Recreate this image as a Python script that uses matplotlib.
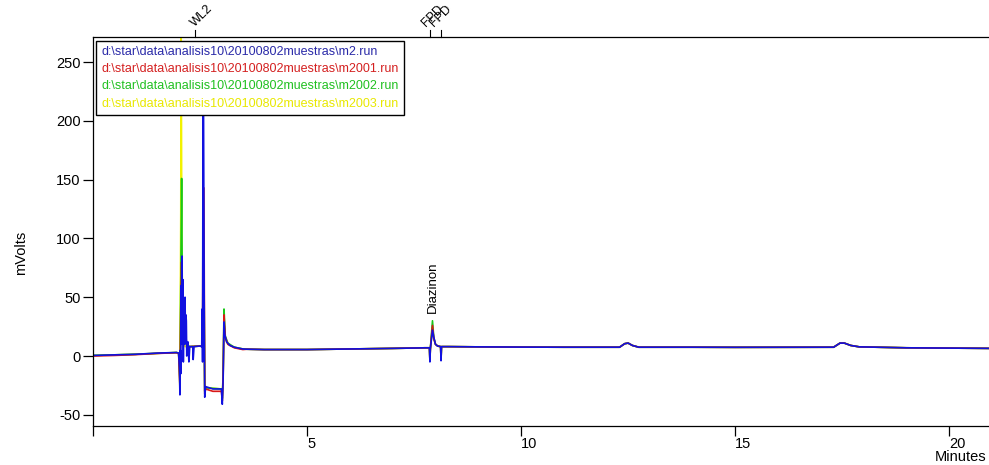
import matplotlib.pyplot as plt
import numpy as np

plt.rcParams['font.family'] = ['Liberation Sans Narrow', 'Liberation Sans', 'DejaVu Sans']
plt.rcParams['axes.unicode_minus'] = False

# run files shown in the legend
run_files = [
    "d:\\star\\data\\analisis10\\20100802muestras\\m2.run",
    "d:\\star\\data\\analisis10\\20100802muestras\\m2001.run",
    "d:\\star\\data\\analisis10\\20100802muestras\\m2002.run",
    "d:\\star\\data\\analisis10\\20100802muestras\\m2003.run",
]

# early part of each trace (0 - 3.5 min)
blue_early_t = [0.0, 0.5, 1.0, 1.5, 1.95, 2.0, 2.02, 2.03, 2.04, 2.05, 2.06, 2.07, 2.08, 2.09, 2.10,
                2.11, 2.12, 2.13, 2.14, 2.15, 2.16, 2.17, 2.18, 2.19, 2.20, 2.22, 2.24, 2.26, 2.30, 2.33,
                2.34, 2.36, 2.50, 2.54, 2.55, 2.56, 2.57, 2.58, 2.60, 2.61, 2.63, 2.80, 3.00, 3.02, 3.04,
                3.06, 3.08, 3.12, 3.20, 3.30, 3.50]
blue_early_v = [0.5, 1.0, 1.5, 2.5, 3.0, 2.5, -10, -33, 5, -15, 60, 10, 85, 20, 65,
                -5, 30, 45, 10, 50, 15, 35, 30, 0, 5, 12, -5, 8, 8, 8,
                -3, 8, 8.5, 8, 40, -5, 230, 230, 20, -35, -26, -28, -28, -41, -20,
                29, 18, 12, 9, 7.5, 6]

red_early_t = [0.0, 0.5, 1.0, 1.5, 1.95, 2.0, 2.03, 2.05, 2.07, 2.09, 2.12, 2.16, 2.20, 2.26, 2.50,
               2.56, 2.57, 2.59, 2.61, 2.63, 2.80, 3.00, 3.02, 3.04, 3.06, 3.09, 3.15, 3.30, 3.50]
red_early_v = [0.0, 0.5, 1.2, 2.2, 2.8, 2.2, -25, 40, 80, 25, 45, 20, 6, 8, 8.5,
               8, 143, 143, -32, -28, -30, -30, -38, -18, 35, 16, 10, 7, 5.5]

green_early_t = [0.0, 1.0, 1.95, 2.0, 2.03, 2.05, 2.07, 2.09, 2.12, 2.18, 2.26, 2.50, 2.56, 2.57, 2.59,
                 2.61, 2.63, 3.00, 3.02, 3.04, 3.06, 3.09, 3.15, 3.30, 3.50]
green_early_v = [0.5, 1.5, 3.0, 2.5, -20, 60, 151, 30, 40, 10, 8, 8.5, 8, 88, 88,
                 -30, -27, -28, -36, -15, 40, 17, 11, 7.5, 6]

yellow_early_t = [0.0, 1.0, 1.95, 2.0, 2.03, 2.05, 2.06, 2.08, 2.10, 2.15, 2.26, 2.50, 2.56, 2.57, 2.59,
                  2.61, 2.63, 3.00, 3.02, 3.04, 3.06, 3.09, 3.15, 3.30, 3.50]
yellow_early_v = [0.5, 1.5, 3.0, 2.5, -28, 120, 280, 40, 20, 8, 8, 8.5, 8, 60, 60,
                  -30, -27, -28, -36, -15, 28, 15, 10, 7.5, 6]

# baseline shared by all runs
mid_t = [3.6, 4.0, 5.0, 6.0, 7.0, 7.5, 7.75]
mid_v = [5.8, 5.5, 5.5, 6.0, 6.5, 6.8, 7.0]

# Diazinon region
diaz_t = [7.80, 7.86, 7.87, 7.88, 7.93, 7.96, 8.00, 8.05, 8.12, 8.13, 8.14, 8.20]
blue_diaz_v = [7, 7, -5, 6, 22, 16, 10, 8.5, 8, -4, 8, 8]
red_diaz_v = [7, 7, -4, 6, 26, 15, 10, 8.5, 8, -3, 8, 8]
green_diaz_v = [7, 7, -4, 6, 30, 16, 10, 8.5, 8, -3, 8, 8]
yellow_diaz_v = [7, 7, -3, 6, 24, 15, 10, 8.5, 8, -3, 8, 8]

tail_t = [8.3, 9.0, 10.0, 11.0, 12.3, 12.42, 12.5, 12.6, 12.75, 14.0, 15.0, 17.3, 17.45, 17.55,
          17.7, 17.9, 19.0, 20.95]
tail_v = [8, 7.8, 7.6, 7.5, 7.5, 10.5, 11, 9, 7.5, 7.5, 7.4, 7.5, 11, 11,
          9, 7.8, 7, 6.5]

line_colors = ['#1010e0', '#d81818', '#18c818', '#f2f200']
text_colors = ['#2a2aa8', '#d42020', '#20c020', '#e8e800']

series = [
    (blue_early_t, blue_early_v, blue_diaz_v),
    (red_early_t, red_early_v, red_diaz_v),
    (green_early_t, green_early_v, green_diaz_v),
    (yellow_early_t, yellow_early_v, yellow_diaz_v),
]

fig = plt.figure(figsize=(9.89, 4.65), dpi=100)
ax = fig.add_axes([93 / 989, 39 / 465, 896 / 989, 389 / 465])

# yellow first, blue last (on top)
lines = [None] * 4
for i in [3, 2, 1, 0]:
    et, ev, dv = series[i]
    t = np.concatenate([et, mid_t, diaz_t, tail_t])
    v = np.concatenate([ev, mid_v, dv, tail_v])
    lines[i], = ax.plot(t, v, color=line_colors[i], lw=1.2, label=run_files[i])

ax.set_xlim(0, 20.93)
ax.set_ylim(-59.5, 271.3)

ax.spines['right'].set_visible(False)
for s in ['left', 'top', 'bottom']:
    ax.spines[s].set_linewidth(0.9)

ax.set_yticks([-50, 0, 50, 100, 150, 200, 250])
ax.tick_params(axis='y', direction='out', length=7, width=0.9, pad=2, labelsize=10.5)
ax.set_xticks([0, 5, 10, 15, 20])
ax.set_xticklabels(['', '5', '10', '15', '20'], ha='left')
ax.tick_params(axis='x', direction='out', length=7, width=0.9, pad=1, labelsize=10.5)

fig.text(21 / 989, (465 - 253) / 465, 'mVolts', rotation=90, ha='center', va='center', fontsize=10.5)
fig.text(986 / 989, (465 - 457) / 465, 'Minutes', ha='right', va='center', fontsize=10.5)

# peak / channel marks above the plot
ax.text(7.93, 37, 'Diazinon', rotation=90, ha='center', va='bottom', fontsize=9.5)
marks_t = [2.38, 7.87, 8.13]
marks_lbl = ['WL2', 'FPD', 'FPD']
marks_dx = [0.05, -0.05, -0.12]
for mt, ml, dx in zip(marks_t, marks_lbl, marks_dx):
    ax.plot([mt, mt], [1.0, 1.018], color='black', lw=0.8,
            transform=ax.get_xaxis_transform(), clip_on=False)
    ax.text(mt + dx, 1.02, ml, rotation=45, rotation_mode='anchor', ha='left', va='bottom',
            fontsize=9, transform=ax.get_xaxis_transform())

leg = ax.legend(handles=lines, loc='upper left', bbox_to_anchor=(0.0035, 0.99), borderaxespad=0,
                handlelength=0, handletextpad=0, labelcolor=text_colors, fontsize=9,
                fancybox=False, framealpha=1, edgecolor='black', labelspacing=0.42, borderpad=0.4)
leg.get_frame().set_linewidth(1.0)
for h in leg.legend_handles:
    h.set_visible(False)

fig.savefig('out.png', dpi=100)
